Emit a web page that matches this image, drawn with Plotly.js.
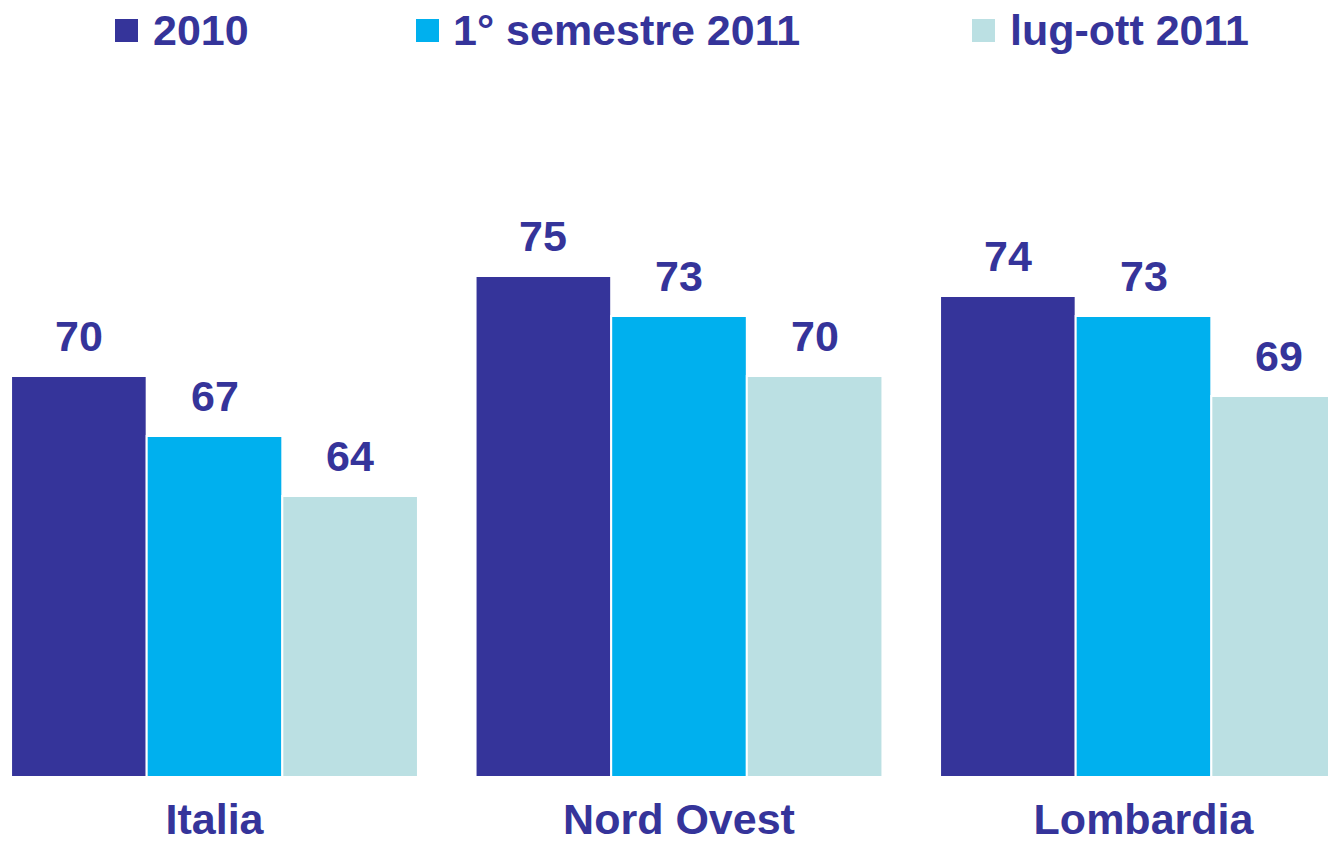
<!DOCTYPE html>
<html>
<head>
<meta charset="utf-8">
<script src="https://cdn.plot.ly/plotly-3.0.1.min.js"></script>
<style>
  html, body { margin: 0; padding: 0; background: #fff; }
  #chart { width: 1328px; height: 844px; }
</style>
</head>
<body>
<div id="chart"></div>
<script>
const categories = ['Italia', 'Nord Ovest', 'Lombardia'];
const seriesNames = ['2010', '1° semestre 2011', 'lug-ott 2011'];
const values2010 = [70, 75, 74];
const valuesSem1 = [67, 73, 73];
const valuesLugOtt = [64, 70, 69];

const seriesValues = [values2010, valuesSem1, valuesLugOtt];
const colors = ['#35349A', '#00B0EE', '#BBE0E3'];
const textColor = '#35349A';
const fontFamily = 'Liberation Sans, Arial, sans-serif';
const fontSize = 43;

const W = 1328, H = 844;
const marginTop = 176, marginBottom = 68;
const plotH = H - marginTop - marginBottom;
const bargap = 0.124;

// legend placement in page pixels
const legendSquareX = [115, 416, 972];
const legendTextX = [151, 451, 1008];
const legendSquareTop = 19, legendSquareSize = 23, legendTextMid = 30;

const px = v => v / W;
const py = v => (H - marginBottom - v) / plotH;

const data = seriesValues.map((vals, j) => ({
  type: 'bar',
  x: categories,
  y: vals,
  name: seriesNames[j],
  marker: { color: colors[j], line: { color: '#ffffff', width: 2 } },
  hoverinfo: 'x+y+name',
  showlegend: false
}));

const annotations = [];
const barW = (1 - bargap) / seriesValues.length;
seriesValues.forEach((vals, j) => {
  vals.forEach((v, i) => {
    annotations.push({
      x: i + (j - (seriesValues.length - 1) / 2) * barW,
      y: v,
      xref: 'x', yref: 'y',
      text: String(v),
      showarrow: false,
      yanchor: 'bottom',
      yshift: 14,
      font: { family: fontFamily, size: fontSize, color: textColor, weight: 'bold' }
    });
  });
});

const shapes = [];
seriesNames.forEach((name, j) => {
  shapes.push({
    type: 'rect', xref: 'paper', yref: 'paper',
    x0: px(legendSquareX[j]), x1: px(legendSquareX[j] + legendSquareSize),
    y0: py(legendSquareTop + legendSquareSize), y1: py(legendSquareTop),
    fillcolor: colors[j], line: { width: 0 }
  });
  annotations.push({
    x: px(legendTextX[j]), y: py(legendTextMid),
    xref: 'paper', yref: 'paper',
    xanchor: 'left', yanchor: 'middle',
    text: name, showarrow: false,
    font: { family: fontFamily, size: fontSize, color: textColor, weight: 'bold' }
  });
});

const layout = {
  width: W,
  height: H,
  margin: { l: 0, r: 0, t: marginTop, b: marginBottom, pad: 0 },
  paper_bgcolor: '#ffffff',
  plot_bgcolor: '#ffffff',
  barmode: 'group',
  bargap: bargap,
  bargroupgap: 0,
  showlegend: false,
  font: { family: fontFamily, color: textColor },
  xaxis: {
    type: 'category',
    range: [-0.4618, 2.3972],
    showgrid: false,
    zeroline: false,
    showline: false,
    ticks: '',
    ticklabelstandoff: 14,
    tickfont: { family: fontFamily, size: fontSize, color: textColor, weight: 'bold' },
    fixedrange: true
  },
  yaxis: {
    range: [50, 80],
    showgrid: false,
    zeroline: false,
    showline: false,
    showticklabels: false,
    ticks: '',
    fixedrange: true
  },
  annotations: annotations,
  shapes: shapes
};

Plotly.newPlot('chart', data, layout, { displayModeBar: false, responsive: false });
</script>
</body>
</html>
